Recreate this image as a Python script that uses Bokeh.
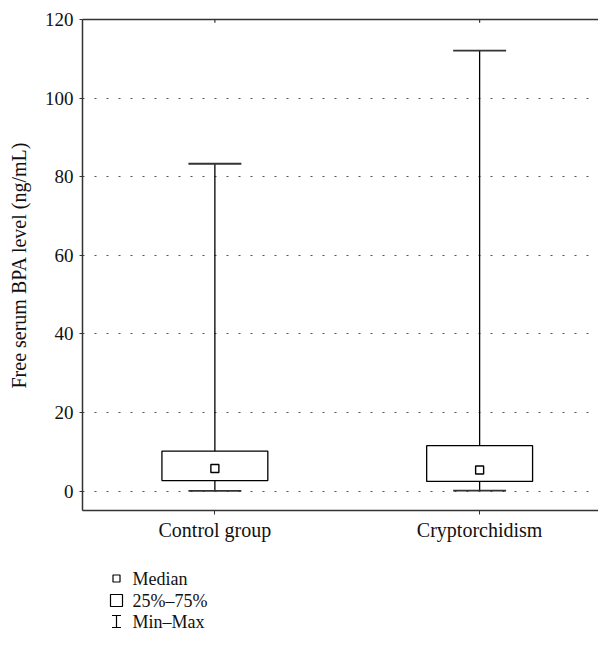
from bokeh.plotting import figure
from bokeh.models import Range1d, FixedTicker, LinearAxis
from bokeh.layouts import column
from bokeh.embed import file_html
from bokeh.resources import INLINE
from bokeh.core.properties import value

categories = ["Control group", "Cryptorchidism"]
mins = [0.1, 0.15]
q1 = [2.7, 2.5]
medians = [5.8, 5.4]
q3 = [10.2, 11.6]
maxs = [83.3, 112.1]
y_ticks = [0, 20, 40, 60, 80, 100, 120]
legend_labels = ["Median", "25%\u201375%", "Min\u2013Max"]

FONT = "Liberation Serif"
xs = list(range(len(categories)))
box_w = 0.4
cap_w = 0.2

W = 598
H_MAIN = 550
H_LEG = 95
FRAME_L = 82

p = figure(width=W, height=H_MAIN, output_backend="svg", toolbar_location=None,
           x_range=Range1d(-0.5, 1.449), y_range=Range1d(-4.9, 120),
           x_axis_location=None, y_axis_location=None,
           min_border_left=FRAME_L, min_border_right=0, min_border_top=19,
           min_border_bottom=40)
p.outline_line_color = None
p.background_fill_color = "white"
p.border_fill_color = "white"

# axes
yax = LinearAxis(ticker=FixedTicker(ticks=y_ticks))
yax.axis_label = "Free serum BPA level (ng/mL)"
yax.axis_label_text_font = FONT
yax.axis_label_text_font_style = "normal"
yax.axis_label_text_font_size = "20px"
yax.axis_label_text_color = "#111"
yax.axis_label_standoff = 12
yax.major_label_text_font = FONT
yax.major_label_text_font_size = "19px"
yax.major_label_text_color = "#111"
yax.major_label_standoff = 6
yax.major_tick_out = 3
yax.major_tick_in = 0
yax.minor_tick_out = 0
yax.minor_tick_in = 0
yax.axis_line_color = "#333"
yax.axis_line_width = 1.5
yax.major_tick_line_color = "#333"
p.add_layout(yax, "left")

xax = LinearAxis(ticker=FixedTicker(ticks=xs))
xax.major_label_overrides = {i: c for i, c in enumerate(categories)}
xax.major_label_text_font = FONT
xax.major_label_text_font_size = "20px"
xax.major_label_text_color = "#111"
xax.major_label_standoff = 4
xax.major_tick_out = 4
xax.major_tick_in = 0
xax.minor_tick_out = 0
xax.minor_tick_in = 0
xax.axis_line_color = "#333"
xax.axis_line_width = 1.5
xax.major_tick_line_color = "#333"
p.add_layout(xax, "below")

tax = LinearAxis(ticker=FixedTicker(ticks=[]))
tax.major_tick_out = 0
tax.major_tick_in = 0
tax.minor_tick_out = 0
tax.minor_tick_in = 0
tax.axis_line_color = "#333"
tax.axis_line_width = 1.5
p.add_layout(tax, "above")

p.xgrid.visible = False
p.ygrid.ticker = FixedTicker(ticks=y_ticks[:-1])
p.ygrid.grid_line_color = "#555"
p.ygrid.grid_line_dash = "2 10"
p.ygrid.grid_line_width = 1

# small inward ticks on the top border at category positions
top = y_ticks[-1]
p.segment(x0=xs, x1=xs, y0=[top] * len(xs), y1=[top - 0.8] * len(xs),
          line_color="#333", line_width=1.2)

# whiskers
p.segment(x0=xs, y0=mins, x1=xs, y1=maxs, line_color="black", line_width=1.3)
# boxes
p.quad(left=[x - box_w / 2 for x in xs], right=[x + box_w / 2 for x in xs],
       bottom=q1, top=q3, fill_color="white", line_color="black", line_width=1.3)
# caps
p.segment(x0=[x - cap_w / 2 for x in xs], x1=[x + cap_w / 2 for x in xs],
          y0=maxs, y1=maxs, line_color="#333", line_width=1.8)
p.segment(x0=[x - cap_w / 2 for x in xs], x1=[x + cap_w / 2 for x in xs],
          y0=mins, y1=mins, line_color="#333", line_width=1.8)
# medians
p.scatter(x=xs, y=medians, marker="square", size=8, fill_color="white",
          line_color="black", line_width=1.4)

# legend figure (data coordinates = page pixels)
lg = figure(width=W, height=H_LEG, output_backend="svg", toolbar_location=None,
            x_range=Range1d(FRAME_L, W), y_range=Range1d(H_MAIN + H_LEG, H_MAIN),
            x_axis_location=None, y_axis_location=None,
            min_border_left=FRAME_L, min_border_right=0, min_border_top=0,
            min_border_bottom=0)
lg.outline_line_color = None
lg.xgrid.visible = False
lg.ygrid.visible = False

sx = 116
ly = [578, 600, 621]
lg.scatter(x=[sx], y=[ly[0]], marker="square", size=7, fill_color="white",
           line_color="black", line_width=1.2)
lg.scatter(x=[sx], y=[ly[1]], marker="square", size=12, fill_color="white",
           line_color="black", line_width=1.2)
lg.segment(x0=[sx, sx - 4.5, sx - 4.5], x1=[sx, sx + 4.5, sx + 4.5],
           y0=[ly[2] - 6, ly[2] - 6, ly[2] + 6], y1=[ly[2] + 6, ly[2] - 6, ly[2] + 6],
           line_color="black", line_width=1.2)
lg.text(x=[sx + 16] * 3, y=ly, text=legend_labels, text_font=value(FONT),
        text_font_size="18px", text_baseline="middle", text_align="left",
        text_color="#111")

layout = column(p, lg, spacing=0)
open("out.html", "w").write(file_html(layout, INLINE))
